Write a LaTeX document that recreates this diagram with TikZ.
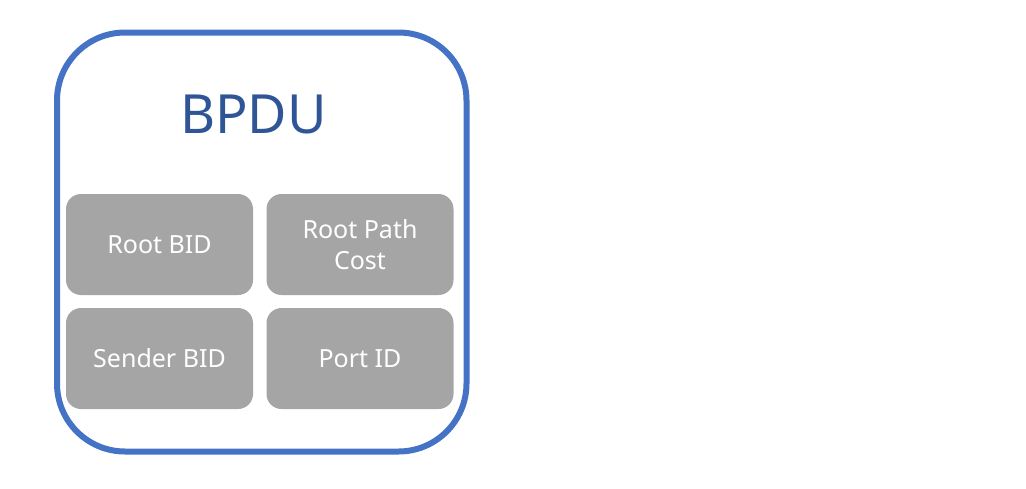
\documentclass[tikz,border=0pt]{standalone}
\usepackage{fontspec}
\setmainfont{Noto Sans}
\definecolor{frameblue}{HTML}{4472C4}
\definecolor{titleblue}{HTML}{2F5597}
\definecolor{boxgray}{HTML}{A5A5A5}
\begin{document}
\begin{tikzpicture}[x=1pt,y=-1pt,
  field/.style={fill=boxgray,draw=none,rounded corners=15pt,minimum width=187pt,minimum height=101pt,
    text=white,align=center,font=\fontsize{25}{31}\selectfont,inner sep=0pt},
  outer/.style={draw=frameblue,line width=6pt,rounded corners=68pt,fill=white}]
\useasboundingbox (0,0) rectangle (1026,488);
\fill[white] (0,0) rectangle (1026,488);
\draw[outer] (57,32.5) rectangle (466.5,451.5);
\node[text=titleblue,font=\fontsize{54}{58}\selectfont,inner sep=0pt] (title) at (253.5,114) {BPDU};
\node[field] (rootbid) at (159.5,244.5) {Root BID};
\node[field] (rpc) at (360,244.5) {Root Path\\Cost};
\node[field] (sender) at (159.5,358.5) {Sender BID};
\node[field] (port) at (360,358.5) {Port ID};
\end{tikzpicture}
\end{document}
